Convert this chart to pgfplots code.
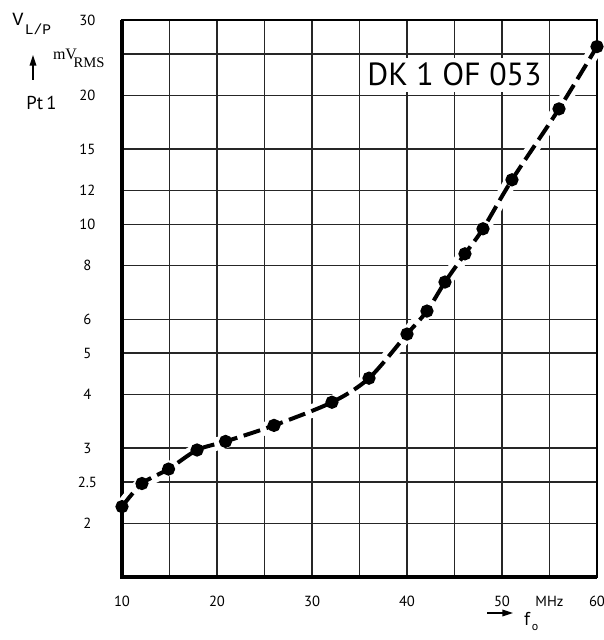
\documentclass[border=0pt]{standalone}
\usepackage{fontspec}
\setmainfont{PT Sans}
\newfontfamily\seriffont{Liberation Serif}
\newfontfamily\monofont{Liberation Mono}
\usepackage{pgfplots}
\usepackage{pgfplotstable}
\pgfplotsset{compat=1.18}
\usetikzlibrary{arrows.meta}
\pgfplotstableread{
x y
10 2.19
12.1 2.48
14.9 2.68
17.9 2.97
20.9 3.11
26.0 3.39
32.1 3.84
36.0 4.37
40.0 5.54
42.1 6.27
44.0 7.33
46.1 8.53
48.0 9.76
51.05 12.7
56.0 18.6
60.0 26.0
}\curvedata
\begin{document}
\begin{tikzpicture}[x=0.75pt,y=0.75pt]
\path[use as bounding box] (0,0) rectangle (604,640);
\begin{axis}[
 at={(91.5pt,47.25pt)}, anchor=south west,
 scale only axis, width=356.25pt, height=417.75pt,
 xmin=10, xmax=60, ymode=log, ymin=1.5, ymax=30,
 xtick={10,20,30,40,50,55,60},
 xticklabels={10,20,30,40,50,MHz,60},
 minor xtick={15,25,35,45},
 ytick={2,2.5,3,4,5,6,8,10,12,15,20,30},
 yticklabels={2,2.5,3,4,5,6,8,10,12,15,20,30},
 minor ytick={25},
 grid=both,
 major grid style={line width=1pt, black!85},
 minor grid style={line width=1pt, black!85},
 major tick length=0pt, minor tick length=0pt,
 axis line style={line width=1.3pt},
 tick label style={font=\fontsize{11}{13}\selectfont},
 xticklabel style={anchor=center, yshift=-18pt},
 yticklabel style={anchor=center, xshift=-26pt},
 clip=false,
]
\draw[line width=3pt] (rel axis cs:0,1) -- (rel axis cs:0,0) -- (rel axis cs:1,0);
\fill[white] (axis cs:35.3,20.4) rectangle (axis cs:54.7,24.5);
\node[font=\fontsize{24}{28}\selectfont] at (axis cs:45,22.36) {DK 1 OF 053};
\addplot[white, line width=10pt, smooth, tension=0.5, no marks] table {\curvedata};
\addplot[black, line width=3pt, smooth, tension=0.5, dash pattern=on 13pt off 5pt, mark=*, mark size=3.4pt, mark options={solid}] table {\curvedata};
\end{axis}
\node[font=\monofont\fontsize{14}{16}\selectfont] at (18,621) {V};
\node[font=\monofont\fontsize{11}{13}\selectfont] at (38,611) {L/P};
\draw[line width=1pt, -{Triangle[length=8pt,width=5pt]}] (33,560) -- (33,585);
\node[font=\fontsize{14}{16}\selectfont] at (41.5,537) {Pt\,1};
\node[font=\seriffont\fontsize{12}{14}\selectfont] at (65,586) {mV};
\node[font=\seriffont\fontsize{11}{13}\selectfont] at (89,577) {RMS};
\draw[line width=1pt, -{Triangle[length=8pt,width=5pt]}] (487,27) -- (513,27);
\node[font=\fontsize{14}{16}\selectfont] at (527,21) {f};
\node[font=\fontsize{9}{11}\selectfont] at (535,12) {o};
\end{tikzpicture}
\end{document}
